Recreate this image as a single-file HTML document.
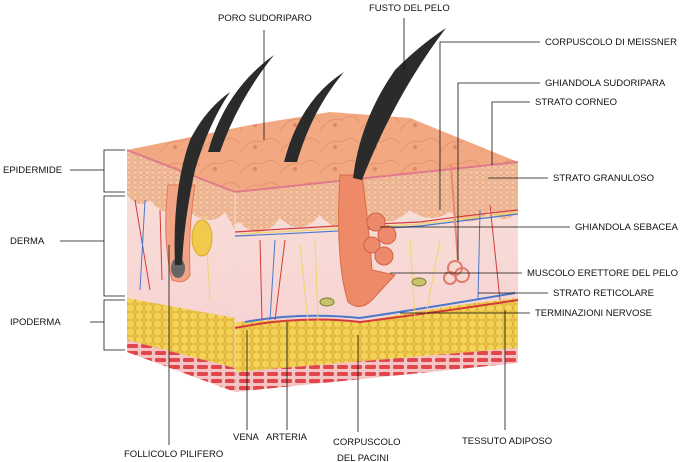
<!DOCTYPE html>
<html><head><meta charset="utf-8"><style>
body{margin:0;background:#fff;}
svg{display:block}
text{font-family:"Liberation Sans",sans-serif;font-size:9.5px;fill:#111}
</style></head><body>
<svg width="688" height="462" viewBox="0 0 688 462" xmlns="http://www.w3.org/2000/svg">
<defs>
<linearGradient id="derm" x1="0" y1="0" x2="0" y2="1"><stop offset="0" stop-color="#f8e0d8"/><stop offset="1" stop-color="#f6cfd2"/></linearGradient>
<pattern id="fat" width="9" height="8" patternUnits="userSpaceOnUse"><rect width="9" height="8" fill="#e9c24a"/><circle cx="4.5" cy="4" r="4" fill="#f4d35a" stroke="#d8a928" stroke-width="0.6"/></pattern>
<pattern id="gran" width="6" height="5" patternUnits="userSpaceOnUse"><rect width="6" height="5" fill="#f1bb98"/><circle cx="3" cy="2.5" r="2.3" fill="#f3c5a5" stroke="#e19a74" stroke-width="0.5"/></pattern>
<pattern id="mus" width="14" height="7" patternUnits="userSpaceOnUse"><rect width="14" height="7" fill="#f4c4c4"/><rect x="1" y="1" width="11" height="4" rx="1.5" fill="#e2464a"/></pattern>
<pattern id="cells" width="40" height="22" patternUnits="userSpaceOnUse"><rect width="40" height="22" fill="#f2a982"/><path d="M0,20 Q10,6 22,10 Q32,2 40,12" stroke="#e69470" fill="none"/><circle cx="15" cy="15" r="2" fill="#e6856a"/></pattern>
</defs>
<!-- left face -->
<polygon points="127,150 235,192 235,392 127,352" fill="url(#derm)"/>
<path d="M127,160 L235,200 L235,230 L225,212 Q210,230 185,208 Q165,220 150,200 Q140,210 127,195Z" fill="url(#gran)"/>
<polygon points="127,150 235,192 235,202 127,160" fill="url(#gran)"/>
<polygon points="127,298 235,318 235,368 127,340" fill="url(#fat)"/>
<polygon points="127,340 235,368 235,392 127,352" fill="url(#mus)"/>
<!-- front face -->
<polygon points="235,192 518,162 518,363 235,392" fill="url(#derm)"/>
<path d="M235,192 L518,162 L518,210 Q505,228 490,210 Q470,232 450,212 Q430,225 410,210 Q390,230 370,215 Q340,240 320,215 Q300,238 280,218 Q260,245 240,222 L235,225Z" fill="url(#gran)"/>
<path d="M235,322 Q300,318 360,322 Q440,306 518,298 L518,348 L235,372Z" fill="url(#fat)"/>
<polygon points="235,372 518,348 518,363 235,392" fill="url(#mus)"/>
<!-- top surface -->
<polygon points="127,150 235,192 518,162 410,118 330,112 250,125" fill="url(#cells)"/>
<path d="M127,150 L235,192 L518,162" stroke="#e07a8a" stroke-width="2" fill="none"/>
<line x1="235" y1="192" x2="235" y2="392" stroke="#f6d8d0"/>
<!-- vessels -->
<path d="M235,328 Q300,315 360,322 Q440,312 518,300" stroke="#d43a3a" stroke-width="2" fill="none"/>
<path d="M245,322 Q300,312 360,318 Q440,306 515,293" stroke="#4a78cc" stroke-width="2" fill="none"/>
<path d="M235,232 Q330,226 420,222 Q470,215 518,210" stroke="#d43a3a" stroke-width="1.2" fill="none"/>
<path d="M235,236 Q330,232 420,226 Q470,220 518,214" stroke="#4a78cc" stroke-width="1.2" fill="none"/>
<path d="M240,234 Q330,229 420,224 Q470,218 518,212" stroke="#f0d36a" stroke-width="1.2" fill="none"/>
<path d="M135,200 L150,290 M160,210 L162,280 M260,240 L262,320 M285,240 L275,320 M490,205 L500,300" stroke="#d43a3a" stroke-width="1" fill="none"/>
<path d="M145,200 L140,290 M275,240 L270,320 M480,210 L478,300" stroke="#4a78cc" stroke-width="1" fill="none"/>
<path d="M205,215 L210,300 M300,245 L308,322 M315,240 L318,322 M410,240 L415,320 M440,240 L425,320" stroke="#f0d36a" stroke-width="1" fill="none"/>
<ellipse cx="327" cy="302" rx="7" ry="4" fill="#c7c46a" stroke="#7d7a30"/>
<ellipse cx="419" cy="282" rx="7" ry="4" fill="#c7c46a" stroke="#7d7a30"/>
<!-- hair follicles -->
<path d="M168,185 Q162,240 172,280 Q185,285 190,275 Q188,230 195,185Z" fill="#f4a486" stroke="#e07a55"/>
<ellipse cx="178" cy="268" rx="7" ry="10" fill="#666"/>
<path d="M175,265 Q172,190 190,140 Q205,110 230,92 Q208,125 195,170 Q184,220 182,265Z" fill="#2b2b2b"/>
<path d="M208,152 Q225,90 274,55 Q238,100 220,152Z" fill="#2b2b2b"/>
<path d="M284,162 Q300,100 344,72 Q312,110 297,162Z" fill="#2b2b2b"/>
<path d="M340,175 Q335,260 348,302 Q360,312 372,300 L395,275 L372,270 Q368,220 362,175Z" fill="#ef8a68" stroke="#d56a45"/>
<path d="M353,178 Q360,120 395,70 Q420,45 446,28 Q395,95 362,180Z" fill="#2b2b2b"/>
<ellipse cx="202" cy="238" rx="10" ry="18" fill="#f1c94c" stroke="#d9a92a"/>
<g fill="#ee8a6c" stroke="#d45f45"><circle cx="376" cy="222" r="9"/><circle cx="387" cy="235" r="9"/><circle cx="372" cy="245" r="8"/><circle cx="384" cy="256" r="9"/></g>
<g fill="none" stroke="#e07a6a" stroke-width="2"><circle cx="455" cy="268" r="7"/><circle cx="462" cy="275" r="7"/><circle cx="450" cy="278" r="6"/></g>
<path d="M458,262 L451,165" stroke="#e58a70" stroke-width="2"/>
<!-- lines -->
<g stroke="#111" stroke-width="0.8" fill="none">
<path d="M70,170 L104,170 M125,150 L104,150 L104,192 L125,192"/>
<path d="M60,241 L104,241 M125,196 L104,196 L104,296 L125,296"/>
<path d="M90,322 L104,322 M125,300 L104,300 L104,350 L125,350"/>
<path d="M264,30 L264,140"/>
<path d="M404,18 L404,70"/>
<path d="M440,210 L440,42 L540,42"/>
<path d="M458,260 L458,83 L540,83"/>
<path d="M492,165 L492,102 L530,102"/>
<path d="M488,178 L548,178"/>
<path d="M380,227 L570,227"/>
<path d="M390,273 L522,273"/>
<path d="M478,293 L548,293"/>
<path d="M400,313 L530,313"/>
<path d="M169,245 L169,445"/>
<path d="M247,330 L247,430"/>
<path d="M287,322 L287,430"/>
<path d="M358,335 L358,432"/>
<path d="M505,310 L505,430"/>
</g>
<text x="218" y="21">PORO SUDORIPARO</text>
<text x="369" y="11">FUSTO DEL PELO</text>
<text x="545" y="45">CORPUSCOLO DI MEISSNER</text>
<text x="545" y="86">GHIANDOLA SUDORIPARA</text>
<text x="535" y="105">STRATO CORNEO</text>
<text x="553" y="181">STRATO GRANULOSO</text>
<text x="575" y="230">GHIANDOLA SEBACEA</text>
<text x="527" y="276">MUSCOLO ERETTORE DEL PELO</text>
<text x="553" y="296">STRATO RETICOLARE</text>
<text x="535" y="316">TERMINAZIONI NERVOSE</text>
<text x="3" y="173">EPIDERMIDE</text>
<text x="10" y="244">DERMA</text>
<text x="10" y="325">IPODERMA</text>
<text x="124" y="457">FOLLICOLO PILIFERO</text>
<text x="233" y="440">VENA</text>
<text x="266" y="440">ARTERIA</text>
<text x="333" y="445">CORPUSCOLO</text>
<text x="337" y="461">DEL PACINI</text>
<text x="462" y="444">TESSUTO ADIPOSO</text>
</svg>
</body></html>
